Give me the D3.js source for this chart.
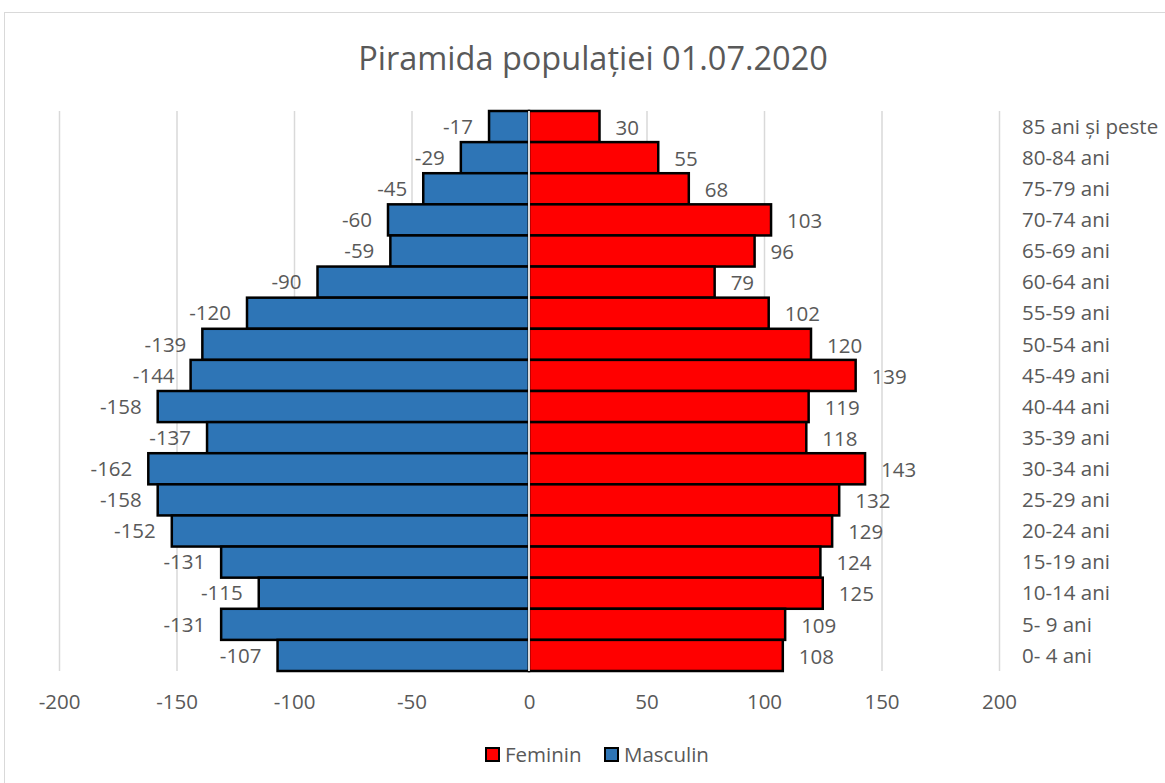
<!DOCTYPE html>
<html><head><meta charset="utf-8">
<script src="https://cdn.jsdelivr.net/npm/d3@7"></script>
<style>body{margin:0;background:#fff;} svg{display:block;font-family:"Open Sans",sans-serif;}</style>
</head><body>
<svg id="c" width="1165" height="783"></svg>
<script>
const categories = ["85 ani și peste","80-84 ani","75-79 ani","70-74 ani","65-69 ani","60-64 ani","55-59 ani","50-54 ani","45-49 ani","40-44 ani","35-39 ani","30-34 ani","25-29 ani","20-24 ani","15-19 ani","10-14 ani","5- 9 ani","0- 4 ani"];
const masculin = [-17,-29,-45,-60,-59,-90,-120,-139,-144,-158,-137,-162,-158,-152,-131,-115,-131,-107];
const feminin = [30,55,68,103,96,79,102,120,139,119,118,143,132,129,124,125,109,108];
const xTicks = [-200,-150,-100,-50,0,50,100,150,200];

const svg = d3.select("#c");
const txt = "#595959";
const fs = 20.5;
svg.append("rect").attr("x",4.5).attr("y",12.5).attr("width",1170).attr("height",790)
  .attr("fill","#fff").attr("stroke","#d9d9d9");

const x = d3.scaleLinear().domain([-200,200]).range([59,999]);
const y = d3.scaleBand().domain(categories).range([111,671]).padding(0);

svg.append("text").attr("x",593).attr("y",70).attr("text-anchor","middle")
  .attr("font-size",32.5).attr("fill",txt).text("Piramida populației 01.07.2020");

// gridlines
svg.append("g").selectAll("line").data(xTicks.filter(d=>d!==0)).join("line")
  .attr("x1",d=>x(d)+0.5).attr("x2",d=>x(d)+0.5).attr("y1",111).attr("y2",671)
  .attr("stroke","#d9d9d9").attr("stroke-width",1.5);

// tick labels
const xa = svg.append("g").attr("transform","translate(0,671)")
  .call(d3.axisBottom(x).tickValues(xTicks).tickSize(0).tickPadding(23).tickFormat(d=>String(d)));
xa.select(".domain").remove();
xa.selectAll("text").attr("font-size",fs).attr("fill",txt).attr("font-family","Open Sans");

// bars
svg.append("g").selectAll("rect").data(masculin).join("rect")
  .attr("x",d=>x(d)).attr("y",(d,i)=>y(categories[i]))
  .attr("width",d=>x(0)-x(d)).attr("height",y.bandwidth())
  .attr("fill","#2e75b6").attr("stroke","#000").attr("stroke-width",2.5);
svg.append("g").selectAll("rect").data(feminin).join("rect")
  .attr("x",x(0)).attr("y",(d,i)=>y(categories[i]))
  .attr("width",d=>x(d)-x(0)).attr("height",y.bandwidth())
  .attr("fill","#ff0000").attr("stroke","#000").attr("stroke-width",2.5);

// zero axis line
svg.append("line").attr("x1",x(0)).attr("x2",x(0)).attr("y1",111).attr("y2",671)
  .attr("stroke","#d9d9d9").attr("stroke-width",2);

// data labels
svg.append("g").selectAll("text").data(masculin).join("text")
  .attr("x",d=>x(d)-16).attr("y",(d,i)=>y(categories[i])+y.bandwidth()/2).attr("dy","0.35em")
  .attr("text-anchor","end").attr("font-size",fs).attr("fill",txt).text(d=>String(d));
svg.append("g").selectAll("text").data(feminin).join("text")
  .attr("x",d=>x(d)+16).attr("y",(d,i)=>y(categories[i])+y.bandwidth()/2+1).attr("dy","0.35em")
  .attr("text-anchor","start").attr("font-size",fs).attr("fill",txt).text(d=>d);

// category labels
svg.append("g").selectAll("text").data(categories).join("text")
  .attr("x",1022).attr("y",d=>y(d)+y.bandwidth()/2).attr("dy","0.35em")
  .attr("font-size",fs).attr("fill",txt).text(d=>d);

// legend
const legend = [{n:"Feminin",c:"#ff0000",x:486},{n:"Masculin",c:"#2e75b6",x:605}];
const lg = svg.append("g").selectAll("g").data(legend).join("g").attr("transform",d=>`translate(${d.x},748)`);
lg.append("rect").attr("width",13).attr("height",13).attr("fill",d=>d.c).attr("stroke","#000").attr("stroke-width",2);
lg.append("text").attr("x",19).attr("y",7).attr("dy","0.35em").attr("font-size",fs).attr("fill",txt).text(d=>d.n);
</script>
</body></html>
